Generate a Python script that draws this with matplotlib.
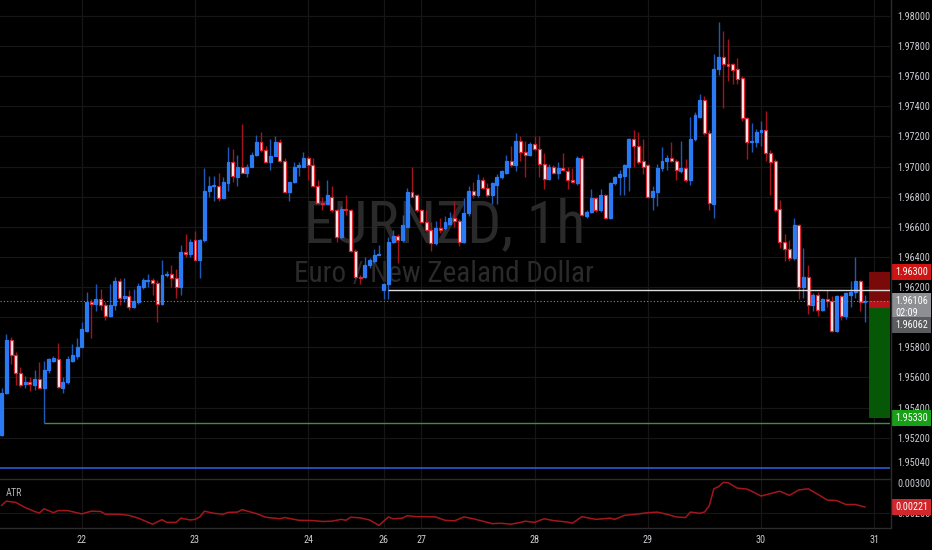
import matplotlib
matplotlib.use("Agg")
import matplotlib.pyplot as plt
from matplotlib import font_manager
from matplotlib.lines import Line2D
from matplotlib.patches import Rectangle
from matplotlib.transforms import offset_copy
import numpy as np

# EURNZD 1h candles, 21st 07:00 -> 30th 22:00
opens = [
    1.9522, 1.9550, 1.9585, 1.9575, 1.9563, 1.9556, 1.9557, 1.9555, 1.9559, 1.9553,
    1.9565, 1.9571, 1.9572, 1.9553, 1.9557, 1.9571, 1.9574, 1.9580, 1.9591, 1.9610,
    1.9609, 1.9612, 1.9608, 1.9601, 1.9608, 1.9624, 1.9613, 1.9614, 1.9607, 1.9610,
    1.9620, 1.9624, 1.9625, 1.9623, 1.9609, 1.9628, 1.9629, 1.9626, 1.9620, 1.9643,
    1.9642, 1.9651, 1.9638, 1.9651, 1.9684, 1.9687, 1.9687, 1.9679, 1.9689, 1.9703,
    1.9693, 1.9700, 1.9696, 1.9700, 1.9708, 1.9716, 1.9711, 1.9703, 1.9707, 1.9716,
    1.9704, 1.9683, 1.9690, 1.9700, 1.9700, 1.9706, 1.9701, 1.9687, 1.9676, 1.9675,
    1.9680, 1.9671, 1.9653, 1.9672, 1.9671, 1.9644, 1.9627, 1.9627, 1.9635, 1.9637,
    1.9641, 1.9618, 1.9622, 1.9650, 1.9654, 1.9651, 1.9660, 1.9683, 1.9681, 1.9671,
    1.9663, 1.9658, 1.9649, 1.9659, 1.9659, 1.9662, 1.9666, 1.9664, 1.9650, 1.9669,
    1.9684, 1.9681, 1.9691, 1.9686, 1.9681, 1.9688, 1.9693, 1.9696, 1.9704, 1.9701,
    1.9717, 1.9710, 1.9708, 1.9715, 1.9712, 1.9702, 1.9692, 1.9700, 1.9696, 1.9699,
    1.9697, 1.9691, 1.9689, 1.9706, 1.9667, 1.9670, 1.9679, 1.9671, 1.9681, 1.9666,
    1.9689, 1.9693, 1.9694, 1.9700, 1.9718, 1.9714, 1.9704, 1.9701, 1.9680, 1.9683,
    1.9699, 1.9704, 1.9706, 1.9704, 1.9697, 1.9699, 1.9691, 1.9718, 1.9733, 1.9744,
    1.9722, 1.9675, 1.9765, 1.9773, 1.9768, 1.9768, 1.9765, 1.9759, 1.9732, 1.9716,
    1.9716, 1.9723, 1.9724, 1.9709, 1.9704, 1.9672, 1.9650, 1.9645, 1.9639, 1.9661,
    1.9620, 1.9627, 1.9608, 1.9615, 1.9605, 1.9612, 1.9611, 1.9591, 1.9614, 1.9601,
    1.9615, 1.9617, 1.9624, 1.96101,
]
highs = [
    1.9553, 1.9589, 1.9587, 1.9577, 1.9567, 1.9561, 1.9560, 1.9565, 1.9570, 1.9571,
    1.9573, 1.9574, 1.9583, 1.9560, 1.9574, 1.9582, 1.9586, 1.9597, 1.9617, 1.9612,
    1.9622, 1.9619, 1.9610, 1.9622, 1.9627, 1.9626, 1.9626, 1.9618, 1.9619, 1.9623,
    1.9626, 1.9629, 1.9626, 1.9625, 1.9638, 1.9631, 1.9635, 1.9632, 1.9648, 1.9655,
    1.9652, 1.9657, 1.9652, 1.9699, 1.9694, 1.9694, 1.9696, 1.9693, 1.9713, 1.9712,
    1.9708, 1.9728, 1.9702, 1.9710, 1.9721, 1.9723, 1.9714, 1.9718, 1.9720, 1.9718,
    1.9706, 1.9690, 1.9703, 1.9703, 1.9710, 1.9707, 1.9706, 1.9691, 1.9680, 1.9691,
    1.9687, 1.9672, 1.9674, 1.9681, 1.9672, 1.9645, 1.9628, 1.9640, 1.9639, 1.9645,
    1.9648, 1.9623, 1.9653, 1.9658, 1.9655, 1.9668, 1.9686, 1.9700, 1.9682, 1.9672,
    1.9671, 1.9663, 1.9664, 1.9666, 1.9667, 1.9670, 1.9677, 1.9665, 1.9679, 1.9687,
    1.9690, 1.9695, 1.9693, 1.9689, 1.9690, 1.9695, 1.9698, 1.9708, 1.9714, 1.9722,
    1.9720, 1.9717, 1.9716, 1.9720, 1.9720, 1.9709, 1.9702, 1.9701, 1.9703, 1.9709,
    1.9700, 1.9699, 1.9707, 1.9708, 1.9671, 1.9685, 1.9680, 1.9685, 1.9682, 1.9690,
    1.9694, 1.9698, 1.9702, 1.9719, 1.9724, 1.9723, 1.9718, 1.9702, 1.9687, 1.9702,
    1.9713, 1.9708, 1.9716, 1.9705, 1.9717, 1.9705, 1.9733, 1.9736, 1.9748, 1.9747,
    1.9724, 1.9775, 1.9796, 1.9790, 1.9785, 1.9769, 1.9772, 1.9760, 1.9733, 1.9729,
    1.9725, 1.9730, 1.9737, 1.9711, 1.9705, 1.9678, 1.9655, 1.9651, 1.9666, 1.9662,
    1.9646, 1.9635, 1.9616, 1.9617, 1.9613, 1.9618, 1.9614, 1.9615, 1.9615, 1.9617,
    1.9624, 1.9640, 1.9625, 1.9615,
]
lows = [
    1.9521, 1.9549, 1.9569, 1.9555, 1.9554, 1.9553, 1.9551, 1.9552, 1.9553, 1.9530,
    1.9563, 1.9570, 1.9553, 1.9550, 1.9556, 1.9570, 1.9572, 1.9580, 1.9590, 1.9586,
    1.9604, 1.9605, 1.9598, 1.9600, 1.9605, 1.9608, 1.9610, 1.9605, 1.9606, 1.9609,
    1.9619, 1.9620, 1.9615, 1.9597, 1.9608, 1.9627, 1.9620, 1.9613, 1.9615, 1.9640,
    1.9640, 1.9637, 1.9626, 1.9650, 1.9680, 1.9677, 1.9677, 1.9679, 1.9684, 1.9690,
    1.9687, 1.9696, 1.9693, 1.9700, 1.9707, 1.9710, 1.9703, 1.9698, 1.9707, 1.9703,
    1.9683, 1.9677, 1.9689, 1.9694, 1.9700, 1.9691, 1.9687, 1.9676, 1.9671, 1.9675,
    1.9670, 1.9650, 1.9652, 1.9668, 1.9643, 1.9626, 1.9622, 1.9626, 1.9633, 1.9636,
    1.9641, 1.9612, 1.9612, 1.9649, 1.9636, 1.9650, 1.9660, 1.9680, 1.9670, 1.9663,
    1.9657, 1.9644, 1.9648, 1.9656, 1.9658, 1.9661, 1.9660, 1.9647, 1.9649, 1.9667,
    1.9679, 1.9680, 1.9685, 1.9680, 1.9675, 1.9675, 1.9692, 1.9695, 1.9700, 1.9697,
    1.9704, 1.9693, 1.9707, 1.9711, 1.9693, 1.9685, 1.9691, 1.9695, 1.9692, 1.9697,
    1.9685, 1.9689, 1.9688, 1.9667, 1.9666, 1.9669, 1.9670, 1.9670, 1.9665, 1.9665,
    1.9688, 1.9681, 1.9681, 1.9684, 1.9700, 1.9702, 1.9695, 1.9679, 1.9671, 1.9674,
    1.9697, 1.9698, 1.9703, 1.9691, 1.9696, 1.9690, 1.9688, 1.9717, 1.9732, 1.9721,
    1.9671, 1.9666, 1.9761, 1.9739, 1.9757, 1.9755, 1.9755, 1.9730, 1.9705, 1.9710,
    1.9713, 1.9714, 1.9704, 1.9681, 1.9670, 1.9646, 1.9637, 1.9637, 1.9638, 1.9612,
    1.9613, 1.9602, 1.9604, 1.9601, 1.9604, 1.9607, 1.9590, 1.9590, 1.9598, 1.9599,
    1.9607, 1.9613, 1.9604, 1.9597,
]
closes = [
    1.9550, 1.9585, 1.9575, 1.9563, 1.9555, 1.9557, 1.9556, 1.9559, 1.9553, 1.9565,
    1.9572, 1.9573, 1.9554, 1.9557, 1.9572, 1.9575, 1.9580, 1.9592, 1.9610, 1.9609,
    1.9612, 1.9608, 1.9601, 1.9608, 1.9624, 1.9613, 1.9614, 1.9607, 1.9611, 1.9621,
    1.9625, 1.9625, 1.9623, 1.9609, 1.9628, 1.9629, 1.9626, 1.9620, 1.9643, 1.9642,
    1.9650, 1.9638, 1.9651, 1.9684, 1.9687, 1.9688, 1.9679, 1.9690, 1.9703, 1.9694,
    1.9700, 1.9696, 1.9700, 1.9708, 1.9716, 1.9711, 1.9703, 1.9707, 1.9716, 1.9704,
    1.9683, 1.9690, 1.9700, 1.9701, 1.9706, 1.9701, 1.9687, 1.9676, 1.9675, 1.9681,
    1.9671, 1.9653, 1.9672, 1.9671, 1.9644, 1.9627, 1.9626, 1.9635, 1.9638, 1.9641,
    1.9642, 1.9622, 1.9650, 1.9654, 1.9651, 1.9661, 1.9683, 1.9680, 1.9671, 1.9663,
    1.9658, 1.9649, 1.9659, 1.9658, 1.9663, 1.9666, 1.9664, 1.9650, 1.9669, 1.9684,
    1.9681, 1.9691, 1.9686, 1.9681, 1.9689, 1.9693, 1.9697, 1.9704, 1.9701, 1.9717,
    1.9710, 1.9708, 1.9715, 1.9712, 1.9702, 1.9692, 1.9700, 1.9696, 1.9699, 1.9698,
    1.9691, 1.9690, 1.9706, 1.9668, 1.9670, 1.9679, 1.9671, 1.9681, 1.9666, 1.9689,
    1.9693, 1.9695, 1.9701, 1.9718, 1.9714, 1.9703, 1.9700, 1.9680, 1.9684, 1.9699,
    1.9704, 1.9706, 1.9704, 1.9698, 1.9699, 1.9691, 1.9718, 1.9734, 1.9744, 1.9722,
    1.9676, 1.9765, 1.9773, 1.9768, 1.9767, 1.9764, 1.9758, 1.9732, 1.9716, 1.9717,
    1.9723, 1.9724, 1.9709, 1.9703, 1.9671, 1.9650, 1.9645, 1.9639, 1.9661, 1.9620,
    1.9627, 1.9608, 1.9615, 1.9605, 1.9612, 1.9611, 1.9591, 1.9614, 1.9601, 1.9616,
    1.9617, 1.9624, 1.9610, 1.96106,
]

# ATR(14) readings at some bars
atr_bar = [
    1, 2, 4, 6, 8, 9, 10, 12, 13, 15, 18, 20, 22, 23, 26, 28, 30, 33, 35, 36,
    38, 39, 41, 42, 43, 44, 46, 48, 49, 51, 52, 55, 57, 60, 61, 64, 67, 69, 71, 73,
    74, 75, 77, 79, 81, 83, 84, 86, 87, 89, 91, 93, 95, 97, 99, 101, 105, 107, 109, 111,
    112, 114, 116, 118, 121, 122, 124, 127, 130, 131, 133, 136, 138, 140, 142, 144, 146, 147, 149, 150,
    151, 152, 153, 154, 155, 157, 159, 160, 162, 164, 166, 168, 170, 172, 174, 176, 178, 180, 182, 184,
]
atr_val = [
    0.00226, 0.00240, 0.00236, 0.00219, 0.00206, 0.00201, 0.00215, 0.00202, 0.00209, 0.00209,
    0.00198, 0.00207, 0.00206, 0.00197, 0.00197, 0.00193, 0.00184, 0.00164, 0.00179, 0.00170,
    0.00170, 0.00184, 0.00178, 0.00180, 0.00188, 0.00207, 0.00200, 0.00197, 0.00203, 0.00204,
    0.00212, 0.00199, 0.00187, 0.00182, 0.00186, 0.00177, 0.00176, 0.00173, 0.00174, 0.00180,
    0.00177, 0.00187, 0.00185, 0.00178, 0.00160, 0.00188, 0.00182, 0.00184, 0.00192, 0.00189,
    0.00189, 0.00188, 0.00177, 0.00175, 0.00188, 0.00182, 0.00166, 0.00167, 0.00164, 0.00170,
    0.00174, 0.00170, 0.00182, 0.00176, 0.00171, 0.00167, 0.00189, 0.00180, 0.00184, 0.00180,
    0.00193, 0.00198, 0.00202, 0.00204, 0.00197, 0.00188, 0.00186, 0.00204, 0.00200, 0.00204,
    0.00224, 0.00281, 0.00288, 0.00302, 0.00301, 0.00283, 0.00280, 0.00273, 0.00257, 0.00265,
    0.00273, 0.00259, 0.00277, 0.00281, 0.00263, 0.00244, 0.00242, 0.00229, 0.00229, 0.00221,
]

day_labels = ["22", "23", "24", "26", "27", "28", "29", "30", "31"]
day_bars = [18, 42, 66, 82, 90, 114, 138, 162, 186]

price_ticks = [1.980, 1.978, 1.976, 1.974, 1.972, 1.970, 1.968, 1.966, 1.964,
               1.962, 1.958, 1.956, 1.954, 1.952, 1.9504]
grid_prices = [1.980, 1.978, 1.976, 1.974, 1.972, 1.970, 1.968, 1.966, 1.964,
               1.962, 1.960, 1.958, 1.956, 1.954, 1.952]

last_price = 1.96106
countdown = "02:09"
entry, stop, target = 1.96062, 1.96300, 1.95330
pos_bar = 185
support, support_bar = 1.9530, 10
resist, resist_bar = 1.9618, 83
level = 1.9500
atr_last = 0.00221

# colours
BG = "#000000"
GRID = "#161616"
SEP = "#2c2c2c"
TXT = "#c9cbd0"
UP = "#2a7af4"
UP_WICK = "#2058b8"
DN_EDGE = "#e02530"
DN_WICK = "#a5141c"

names = {f.name for f in font_manager.fontManager.ttflist}
narrow = next((n for n in ["Liberation Sans Narrow", "Roboto Condensed", "Open Sans Condensed"]
               if n in names), "Liberation Sans")
plt.rcParams["font.family"] = [narrow, "DejaVu Sans"]
lab_size = 7.3 if narrow != "Liberation Sans" else 6.3

fig = plt.figure(figsize=(9.32, 5.5), dpi=100, facecolor=BG)
ax = fig.add_axes([0, 71 / 550, 890 / 932, 479 / 550])
atr_ax = fig.add_axes([0, 22 / 550, 890 / 932, 49 / 550], sharex=ax)
x0, x1 = 0.66, 189.34

for a in (ax, atr_ax):
    a.set_facecolor(BG)
    for s in a.spines.values():
        s.set_visible(False)
    for d in day_bars:
        a.axvline(d, color=GRID, lw=0.9, zorder=0)

ax.set_xlim(x0, x1)
ax.set_ylim(1.94926, 1.98106)
for p in grid_prices:
    ax.axhline(p, color=GRID, lw=0.9, zorder=0)

# watermark
ax.text(0.5, 0.4948, "EURNZD, 1h", transform=ax.transAxes, ha="center", va="baseline",
        fontsize=43, color="#2a2a2a", zorder=0.5)
ax.text(0.4983, 0.4113, "Euro / New Zealand Dollar", transform=ax.transAxes, ha="center",
        va="baseline", fontsize=21, color="#2a2a2a", zorder=0.5)

# candles
o = np.array(opens)
h = np.array(highs)
l = np.array(lows)
c = np.array(closes)
idx = np.arange(1, len(o) + 1)
up = c >= o
ax.vlines(idx, l, h, colors=np.where(up, UP_WICK, DN_WICK), lw=1, zorder=2)
body_h = np.maximum(np.abs(c - o), 0.00003)
ax.bar(idx, body_h, bottom=np.minimum(o, c), width=0.62,
       color=np.where(up, UP, "#ffffff"), edgecolor=np.where(up, UP, DN_EDGE),
       linewidth=0.9, zorder=3)

# drawings
ax.hlines(resist, resist_bar, x1, color="#dcdcdc", lw=1, zorder=4)
ax.hlines(support, support_bar, x1, color="#3e8e41", lw=1, zorder=4)
ax.axhline(level, color="#2c5ad6", lw=1.2, zorder=4)
ax.axhline(last_price, color="#8a8a8a", lw=0.8, ls=(0, (1, 2)), zorder=4)

# short position tool
pw = x1 - pos_bar + 0.1
ax.add_patch(Rectangle((pos_bar - 0.1, entry), pw, stop - entry, fc="#7a0a0a", ec="none", zorder=3.5))
ax.add_patch(Rectangle((pos_bar - 0.1, entry), pw, last_price - entry, fc="#b5121b", ec="none", zorder=3.6))
ax.add_patch(Rectangle((pos_bar - 0.1, target), pw, entry - target, fc="#065806", ec="none", zorder=3.5))

# price scale
ax.yaxis.tick_right()
ax.set_yticks(price_ticks, [f"{p:.5f}" for p in price_ticks])
ax.tick_params(axis="y", length=0, pad=5, labelsize=lab_size, labelcolor=TXT)
ax.tick_params(axis="x", length=0, labelbottom=False)

ytr = ax.get_yaxis_transform()
lx = 895 / 890
box = dict(boxstyle="square,pad=0.32", ec="none")
ax.text(lx, stop, f"{stop:.5f}", transform=ytr, ha="left", va="center", color="white",
        fontsize=lab_size, bbox={**box, "fc": "#cf1414"}, zorder=10, clip_on=False)
ax.text(lx, last_price, f"{last_price:.5f}\n{countdown}",
        transform=offset_copy(ytr, fig, x=0, y=5, units="dots"), ha="left", va="top",
        multialignment="left", linespacing=1.25, color="white", fontsize=lab_size,
        bbox={**box, "fc": "#8d8f93"}, zorder=10, clip_on=False)
ax.text(lx, entry, f"{entry:.5f}", transform=offset_copy(ytr, fig, x=0, y=-17, units="dots"),
        ha="left", va="center", color="white", fontsize=lab_size,
        bbox={**box, "fc": "#5a5c5f"}, zorder=10, clip_on=False)
ax.text(lx, target, f"{target:.5f}", transform=ytr, ha="left", va="center", color="white",
        fontsize=lab_size, bbox={**box, "fc": "#16a016"}, zorder=10, clip_on=False)

# ATR pane
atr_ax.set_ylim(0.001515, 0.003132)
atr_ax.axhline(0.002, color=GRID, lw=0.9, zorder=0)
atr_ax.plot(atr_bar, atr_val, color="#a3161c", lw=1.1, zorder=3)
atr_ax.yaxis.tick_right()
atr_ax.set_yticks([0.002, 0.003], ["0.00200", "0.00300"])
atr_ax.tick_params(axis="y", length=0, pad=5, labelsize=lab_size, labelcolor=TXT)
atr_ax.set_xticks(day_bars, day_labels)
atr_ax.tick_params(axis="x", length=0, pad=5, labelsize=lab_size, labelcolor=TXT)
atr_ax.text(6 / 890, 0.724, "ATR", transform=atr_ax.transAxes, ha="left", va="center",
            fontsize=lab_size, color="#b0b2b8")
atr_ax.text(lx, atr_last, f"{atr_last:.5f}", transform=atr_ax.get_yaxis_transform(),
            ha="left", va="center", color="white", fontsize=lab_size,
            bbox={**box, "fc": "#d0262c"}, zorder=10, clip_on=False)
atr_ax.set_xlim(x0, x1)

# pane separators
fig.add_artist(Line2D([0, 890 / 932], [71 / 550, 71 / 550], color=SEP, lw=1))
fig.add_artist(Line2D([0, 890 / 932], [22 / 550, 22 / 550], color=SEP, lw=1))
fig.add_artist(Line2D([890.5 / 932, 890.5 / 932], [22 / 550, 1], color=SEP, lw=1))

fig.savefig("out.png", dpi=100, facecolor=BG)
